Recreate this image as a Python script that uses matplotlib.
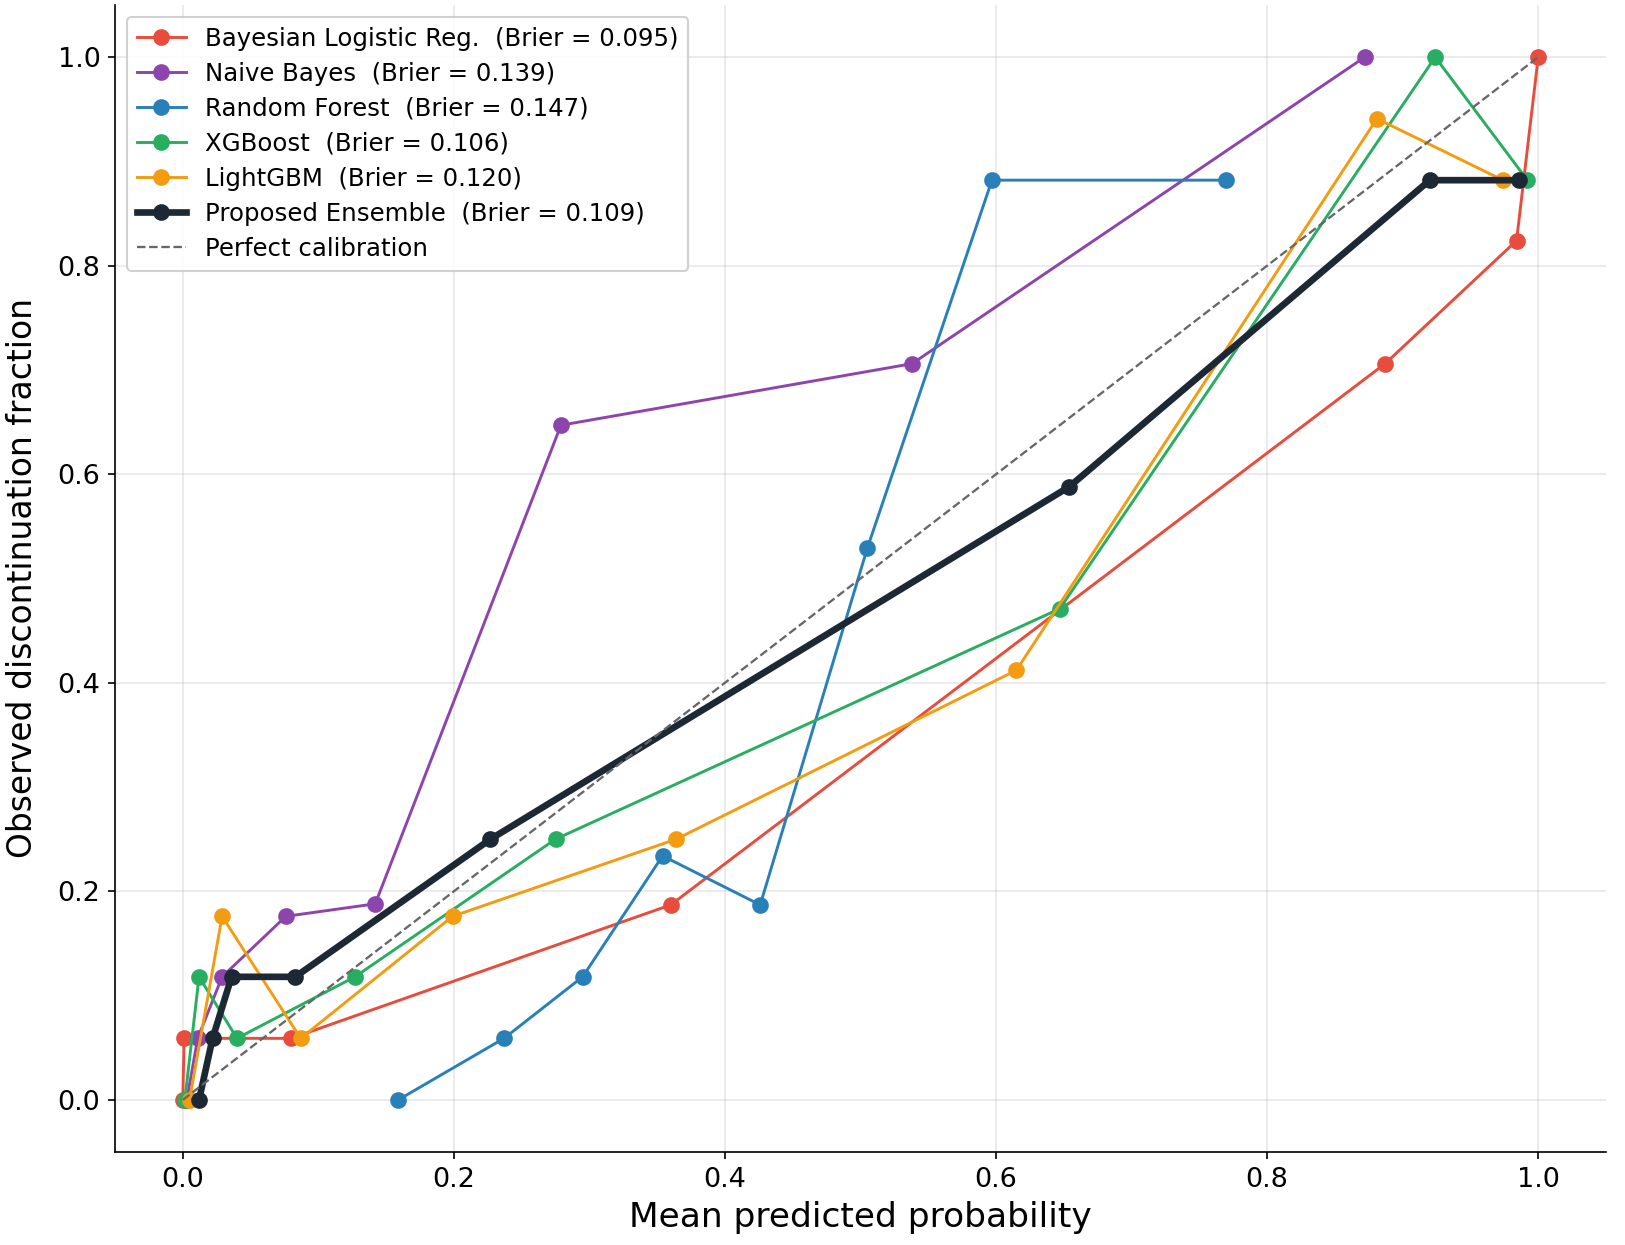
import matplotlib
matplotlib.use('Agg')
import matplotlib.pyplot as plt

# calibration curves (mean predicted prob, observed fraction)
blr_x = [0.000, 0.001, 0.080, 0.360, 0.887, 0.984, 1.000]
blr_y = [0.000, 0.059, 0.059, 0.187, 0.706, 0.824, 1.000]

nb_x = [0.003, 0.011, 0.029, 0.076, 0.142, 0.279, 0.538, 0.872]
nb_y = [0.000, 0.059, 0.118, 0.176, 0.188, 0.647, 0.706, 1.000]

rf_x = [0.159, 0.237, 0.295, 0.354, 0.426, 0.505, 0.597, 0.770]
rf_y = [0.000, 0.059, 0.118, 0.234, 0.187, 0.529, 0.882, 0.882]

xgb_x = [0.0015, 0.012, 0.040, 0.127, 0.275, 0.647, 0.924, 0.992]
xgb_y = [0.000, 0.118, 0.059, 0.118, 0.250, 0.471, 1.000, 0.882]

lgb_x = [0.005, 0.029, 0.087, 0.199, 0.364, 0.615, 0.881, 0.974]
lgb_y = [0.000, 0.176, 0.059, 0.176, 0.250, 0.412, 0.941, 0.882]

ens_x = [0.012, 0.022, 0.036, 0.083, 0.227, 0.654, 0.920, 0.986]
ens_y = [0.000, 0.059, 0.118, 0.118, 0.250, 0.588, 0.882, 0.882]

labels = ['Bayesian Logistic Reg.', 'Naive Bayes', 'Random Forest',
          'XGBoost', 'LightGBM', 'Proposed Ensemble']
briers = [0.095, 0.139, 0.147, 0.106, 0.120, 0.109]
colors = ['#e74c3c', '#8e44ad', '#2980b9', '#27ae60', '#f39c12', '#1c2833']

curves = [(blr_x, blr_y), (nb_x, nb_y), (rf_x, rf_y),
          (xgb_x, xgb_y), (lgb_x, lgb_y), (ens_x, ens_y)]

fig = plt.figure(figsize=(1625 / 150, 1245 / 150), dpi=150)
ax = fig.add_axes([115 / 1625, 1 - 1152 / 1245, (1606 - 115) / 1625, (1152 - 5) / 1245])

for i, (xs, ys) in enumerate(curves):
    is_ens = labels[i] == 'Proposed Ensemble'
    ax.plot(xs, ys, marker='o', markersize=7,
            linewidth=3.2 if is_ens else 1.4,
            color=colors[i], zorder=4 if is_ens else 3,
            label=f'{labels[i]}  (Brier = {briers[i]:.3f})')

ax.plot([0, 1], [0, 1], '--', color='#666666', linewidth=1.1,
        label='Perfect calibration', zorder=5)

ax.set_xlim(-0.05, 1.05)
ax.set_ylim(-0.05, 1.05)
ax.set_xlabel('Mean predicted probability', fontsize=16.5, labelpad=4)
ax.set_ylabel('Observed discontinuation fraction', fontsize=15.8, labelpad=9)
ax.tick_params(labelsize=13)
ax.grid(True, alpha=0.3)
ax.spines['top'].set_visible(False)
ax.spines['right'].set_visible(False)
ax.legend(loc='upper left', fontsize=11.7, framealpha=0.9, labelspacing=0.45)

fig.savefig('out.png', dpi=150)
